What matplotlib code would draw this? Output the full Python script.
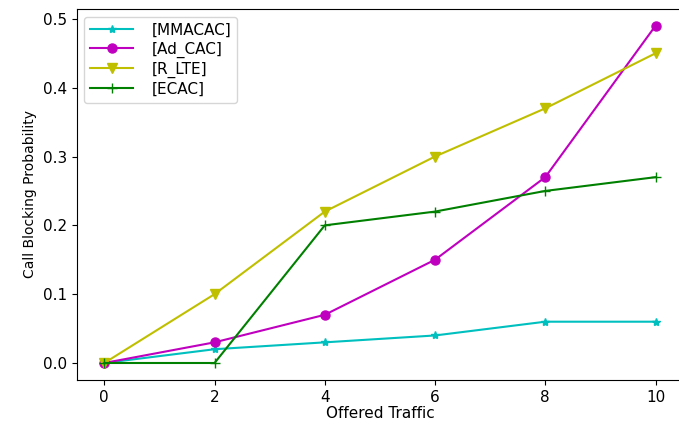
import matplotlib
matplotlib.use('Agg')
import matplotlib.pyplot as plt

traffic = [0, 2, 4, 6, 8, 10]
mmacac = [0.0, 0.02, 0.03, 0.04, 0.06, 0.06]
ad_cac = [0.0, 0.03, 0.07, 0.15, 0.27, 0.49]
r_lte = [0.0, 0.10, 0.22, 0.30, 0.37, 0.45]
ecac = [0.0, 0.0, 0.20, 0.22, 0.25, 0.27]

fig = plt.figure(figsize=(6.79, 4.23), dpi=100)
ax = fig.add_axes([0.113, 0.102, 0.893, 0.877])

ax.plot(traffic, mmacac, 'c-*', label='[MMACAC]', markersize=6)
ax.plot(traffic, ad_cac, 'm-o', label='[Ad_CAC]', markersize=6.5)
ax.plot(traffic, r_lte, 'y-v', label='[R_LTE]', markersize=6.5)
ax.plot(traffic, ecac, 'g-+', label='[ECAC]', markersize=7)

ax.set_xlabel('Offered Traffic', fontsize=11, labelpad=1)
ax.set_ylabel('Call Blocking Probability', fontsize=10)
ax.tick_params(labelsize=11)
ax.legend(loc='upper left', fontsize=11, labelspacing=0.25, handlelength=2.8,
          handletextpad=1.2)

fig.savefig('out.png', dpi=100)
